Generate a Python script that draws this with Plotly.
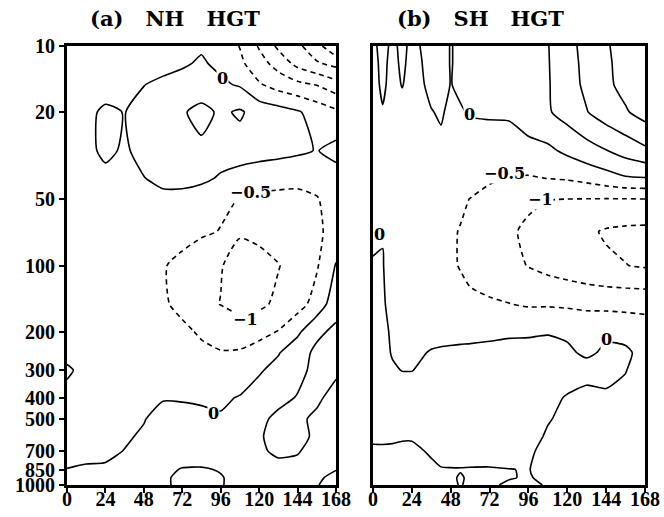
import math
import plotly.graph_objects as go

# ---------------- data ----------------
pressure = [1000, 925, 850, 700, 600, 500, 400, 300, 250, 200, 150, 100, 70, 50, 40, 30, 20, 15, 12, 10]
y_tick_values = [10, 20, 50, 100, 200, 300, 400, 500, 700, 850, 1000]
x_tick_values = [0, 24, 48, 72, 96, 120, 144, 168]

lags_nh = [0, 12, 24, 36, 48, 60, 72, 84, 96, 108, 120, 132, 144, 156, 168]
nh_hgt = [
    [0.2, 0.2, 0.2, 0.3, 0.4, 0.43, 0.6, 0.65, 0.52, 0.4, 0.35, 0.35, 0.4, 0.48, 0.65],        # 1000
    [0.1, 0.15, 0.15, 0.25, 0.35, 0.43, 0.6, 0.62, 0.52, 0.4, 0.35, 0.35, 0.4, 0.45, 0.58],     # 925
    [0.01, 0.05, 0.05, 0.2, 0.3, 0.42, 0.52, 0.53, 0.48, 0.4, 0.35, 0.4, 0.42, 0.45, 0.49],     # 850
    [-0.15, -0.12, -0.08, 0.01, 0.15, 0.25, 0.3, 0.3, 0.32, 0.38, 0.45, 0.56, 0.52, 0.4, 0.35], # 700
    [-0.2, -0.18, -0.12, -0.05, 0.05, 0.2, 0.25, 0.25, 0.3, 0.35, 0.47, 0.6, 0.58, 0.45, 0.35], # 600
    [-0.2, -0.2, -0.15, -0.08, -0.02, 0.15, 0.15, 0.1, 0.03, 0.3, 0.42, 0.58, 0.55, 0.45, 0.35],# 500
    [-0.2, -0.2, -0.2, -0.15, -0.08, -0.03, -0.04, -0.06, -0.05, 0.02, 0.2, 0.4, 0.52, 0.55, 0.4],  # 400
    [0.1, -0.2, -0.2, -0.2, -0.22, -0.25, -0.28, -0.3, -0.3, -0.2, -0.05, 0.15, 0.4, 0.6, 0.55],     # 300
    [-0.2, -0.2, -0.2, -0.22, -0.25, -0.3, -0.35, -0.42, -0.47, -0.45, -0.3, -0.03, 0.3, 0.6, 0.75], # 250
    [-0.2, -0.2, -0.22, -0.25, -0.3, -0.35, -0.42, -0.55, -0.7, -0.75, -0.65, -0.48, -0.1, 0.4, 0.6],# 200
    [-0.2, -0.2, -0.25, -0.3, -0.35, -0.45, -0.6, -0.88, -1.01, -1.15, -1.1, -0.9, -0.7, -0.3, 0.3], # 150
    [-0.2, -0.2, -0.25, -0.3, -0.38, -0.46, -0.65, -0.85, -0.97, -1.2, -1.2, -1.02, -0.8, -0.55, 0.03],  # 100
    [-0.2, -0.2, -0.2, -0.2, -0.2, -0.25, -0.3, -0.42, -0.52, -0.95, -0.85, -0.75, -0.7, -0.6, -0.3],   # 70
    [-0.2, -0.2, -0.2, -0.2, -0.1, -0.1, -0.12, -0.25, -0.4, -0.52, -0.6, -0.62, -0.62, -0.53, -0.3],   # 50
    [-0.15, -0.15, -0.1, -0.1, -0.01, 0.1, 0.12, 0.1, -0.05, -0.25, -0.3, -0.35, -0.38, -0.35, -0.2],   # 40
    [-0.15, -0.1, 0.08, -0.05, 0.12, 0.2, 0.2, 0.4, 0.2, 0.3, 0.2, 0.15, 0.08, -0.02, 0.15],           # 30
    [-0.1, -0.08, 0.06, -0.01, 0.15, 0.25, 0.45, 0.65, 0.42, 0.56, 0.3, 0.2, 0.05, -0.2, -0.4],         # 20
    [-0.1, -0.1, -0.15, -0.08, -0.01, 0.1, 0.15, 0.2, 0.08, -0.05, -0.45, -0.7, -0.88, -1.02, -1.3],   # 15
    [-0.15, -0.15, -0.15, -0.15, -0.15, -0.15, -0.05, 0.05, -0.1, -0.4, -0.8, -1.2, -1.65, -1.95, -2.15],  # 12
    [-0.2, -0.2, -0.2, -0.2, -0.15, -0.12, -0.1, -0.05, -0.2, -0.52, -1.05, -1.6, -1.9, -2.3, -3.0],    # 10
]

lags_sh = [0, 6, 12, 18, 24, 30, 36, 42, 48, 54, 60, 72, 84, 96, 108, 120, 132, 144, 156, 168]
sh_hgt = [
    [-0.25, -0.25, -0.25, -0.25, -0.25, -0.25, -0.2, -0.15, -0.1, 0.03, -0.1, -0.05, 0.05, 0.05, -0.02, -0.3, -0.35, -0.35, -0.35, -0.35],  # 1000
    [-0.25, -0.25, -0.25, -0.25, -0.25, -0.2, -0.15, -0.1, -0.05, 0.03, -0.05, -0.05, -0.02, 0.03, -0.1, -0.3, -0.35, -0.35, -0.35, -0.35],  # 925
    [-0.2, -0.2, -0.2, -0.2, -0.2, -0.15, -0.08, -0.02, -0.02, -0.02, -0.03, -0.04, -0.01, 0.02, -0.2, -0.3, -0.35, -0.35, -0.35, -0.35],   # 850
    [-0.1, -0.08, -0.08, -0.1, -0.1, -0.02, 0.05, 0.12, 0.18, 0.2, 0.22, 0.25, 0.25, 0.08, -0.15, -0.2, -0.25, -0.3, -0.3, -0.3],          # 700
    [0.12, 0.1, 0.08, 0.05, 0.05, 0.1, 0.15, 0.2, 0.25, 0.28, 0.3, 0.3, 0.3, 0.15, -0.05, -0.15, -0.25, -0.25, -0.25, -0.25],             # 600
    [0.3, 0.3, 0.3, 0.3, 0.3, 0.3, 0.3, 0.3, 0.3, 0.3, 0.3, 0.3, 0.3, 0.2, 0.03, -0.1, -0.2, -0.2, -0.2, -0.2],                           # 500
    [0.3, 0.3, 0.3, 0.25, 0.25, 0.25, 0.25, 0.25, 0.25, 0.25, 0.25, 0.25, 0.25, 0.2, 0.1, -0.03, -0.1, -0.05, -0.15, -0.25],              # 400
    [0.25, 0.2, 0.05, -0.01, -0.01, 0.05, 0.12, 0.15, 0.18, 0.2, 0.22, 0.25, 0.28, 0.3, 0.28, 0.2, 0.12, 0.1, 0.02, -0.3],                # 300
    [0.2, 0.12, -0.03, -0.08, -0.08, -0.03, 0.03, 0.06, 0.08, 0.1, 0.1, 0.12, 0.15, 0.15, 0.15, 0.05, -0.05, 0.05, 0.08, -0.15],          # 250
    [0.15, 0.08, -0.05, -0.1, -0.12, -0.15, -0.15, -0.15, -0.15, -0.15, -0.13, -0.1, -0.07, -0.06, -0.03, -0.05, -0.12, -0.05, -0.15, -0.25],  # 200
    [0.1, 0.03, -0.08, -0.12, -0.16, -0.2, -0.25, -0.3, -0.35, -0.38, -0.42, -0.45, -0.49, -0.55, -0.55, -0.58, -0.62, -0.65, -0.65, -0.65],  # 150
    [0.03, 0.01, -0.1, -0.18, -0.22, -0.28, -0.33, -0.38, -0.45, -0.52, -0.6, -0.72, -0.85, -1.02, -1.15, -1.25, -1.35, -1.42, -1.49, -1.55],  # 100
    [-0.08, -0.01, -0.15, -0.2, -0.25, -0.3, -0.35, -0.4, -0.45, -0.52, -0.6, -0.75, -0.92, -1.1, -1.25, -1.35, -1.42, -1.55, -1.6, -1.62],  # 70
    [-0.22, -0.22, -0.22, -0.22, -0.23, -0.25, -0.28, -0.32, -0.38, -0.43, -0.51, -0.62, -0.75, -0.9, -0.99, -1.01, -1.02, -1.03, -1.03, -1.02],  # 50
    [-0.22, -0.22, -0.22, -0.22, -0.22, -0.22, -0.24, -0.25, -0.27, -0.3, -0.35, -0.45, -0.52, -0.54, -0.49, -0.45, -0.35, -0.2, -0.05, -0.02],  # 40
    [-0.2, -0.2, -0.2, -0.2, -0.22, -0.22, -0.22, -0.1, -0.2, -0.2, -0.2, -0.2, -0.2, -0.15, -0.1, 0.1, 0.3, 0.48, 0.7, 0.9],              # 30
    [-0.15, -0.03, -0.15, -0.15, -0.18, -0.1, -0.02, 0.05, -0.1, -0.03, 0.03, 0.05, 0.06, 0.25, 0.45, 0.7, 0.98, 1.25, 1.45, 1.7],        # 20
    [-0.15, 0.08, -0.15, 0.02, -0.15, -0.05, 0.12, 0.12, -0.01, 0.06, 0.1, 0.18, 0.27, 0.37, 0.46, 0.8, 1.1, 1.4, 1.65, 1.85],            # 15
    [-0.12, 0.1, -0.12, 0.07, -0.12, -0.01, 0.15, 0.15, -0.02, 0.08, 0.12, 0.2, 0.28, 0.38, 0.47, 0.83, 1.12, 1.42, 1.68, 1.88],          # 12
    [-0.1, 0.15, -0.1, 0.1, -0.1, 0.02, 0.15, 0.15, -0.02, 0.08, 0.12, 0.2, 0.28, 0.38, 0.48, 0.85, 1.15, 1.45, 1.7, 1.9],                # 10
]

# contour labels: (lag, pressure, text)
labels_nh = [(96.8, 14.1, "0"), (114.3, 46.7, "\u22120.5"), (111.2, 177, "\u22121"), (91.2, 470, "0")]
labels_sh = [(59.9, 20.6, "0"), (81.5, 37.9, "\u22120.5"), (103.6, 50.3, "\u22121"), (4.3, 72, "0"), (144.5, 218, "0")]

titles = ["(a)\u00a0\u00a0\u00a0NH\u00a0\u00a0\u00a0HGT", "(b)\u00a0\u00a0\u00a0SH\u00a0\u00a0\u00a0HGT"]

# ---------------- figure ----------------
W, H = 664, 517
fig = go.Figure()

def add_panel(lags, field, xa, ya):
    for start, end, dash in [(0, 3.0, "solid"), (-3.5, -0.5, "5px,4px")]:
        fig.add_trace(go.Contour(
            x=lags, y=pressure, z=field, xaxis=xa, yaxis=ya,
            autocontour=False,
            contours=dict(start=start, end=end, size=0.5, coloring="lines", showlabels=False),
            colorscale=[[0, "black"], [1, "black"]], showscale=False,
            line=dict(width=1.6, dash=dash, smoothing=0.6),
            hoverinfo="skip",
        ))

add_panel(lags_nh, nh_hgt, "x", "y")
add_panel(lags_sh, sh_hgt, "x2", "y2")

tick_font = dict(family="Liberation Serif", size=20, color="black", weight="bold")
ydom = [(H - 485) / H, (H - 46) / H]

common_x = dict(range=[0, 168], tickmode="array", tickvals=x_tick_values,
                ticktext=[str(v) for v in x_tick_values], ticks="outside", ticklen=5,
                tickwidth=2, tickcolor="black", showline=True, linewidth=3,
                linecolor="black", mirror=True, showgrid=False, zeroline=False,
                tickfont=tick_font, automargin=False, ticklabelstandoff=-11)
common_y = dict(type="log", range=[math.log10(1000), math.log10(10)], domain=ydom,
                showline=True, linewidth=3, linecolor="black", mirror=True,
                showgrid=False, zeroline=False, automargin=False)

fig.update_layout(
    template="none",
    width=W, height=H, margin=dict(l=0, r=0, t=0, b=0, pad=0), autosize=False,
    paper_bgcolor="white", plot_bgcolor="white", showlegend=False,
    xaxis=dict(domain=[67 / W, 336 / W], anchor="y", **common_x),
    xaxis2=dict(domain=[373 / W, 645 / W], anchor="y2", **common_x),
    yaxis=dict(anchor="x", tickmode="array", tickvals=y_tick_values,
               ticktext=[str(v) for v in y_tick_values], ticks="outside", ticklen=5,
               tickwidth=2, tickcolor="black", tickfont=tick_font, **common_y),
    yaxis2=dict(anchor="x2", showticklabels=False, ticks="", **common_y),
)

label_font = dict(family="DejaVu Serif", size=16, color="black", weight="bold")
annotations = []
for labs, xr, yr in [(labels_nh, "x", "y"), (labels_sh, "x2", "y2")]:
    for lag, p, txt in labs:
        annotations.append(dict(x=lag, y=math.log10(p), xref=xr, yref=yr, text=txt,
                                showarrow=False, font=label_font, bgcolor="white",
                                borderpad=0, xanchor="center", yanchor="middle"))
for xc, t in zip([175 / W, 480 / W], titles):
    annotations.append(dict(x=xc, y=1 - 18 / H, xref="paper", yref="paper", text=t,
                            showarrow=False, xanchor="center", yanchor="middle",
                            font=dict(family="DejaVu Serif", size=21, color="black", weight="bold")))
fig.update_layout(annotations=annotations)

fig.write_html("out.html")
